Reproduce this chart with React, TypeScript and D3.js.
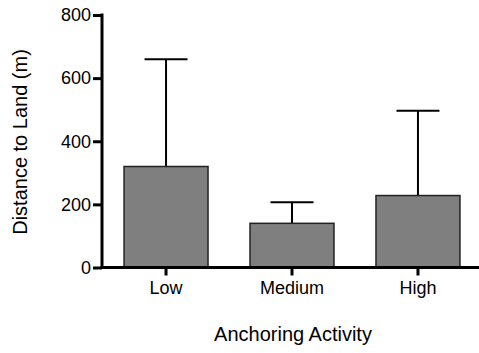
import React, { useEffect, useRef } from "react";
import * as d3 from "d3";

const categories = ["Low", "Medium", "High"];
const means = [320, 140, 228];
const errTops = [660, 207, 497];
const yTicks = [0, 200, 400, 600, 800];

const width = 479;
const height = 353;
const left = 102;
const bottom = 267.5;
const top = 15;
const font = "'Liberation Sans', Arial, Helvetica, sans-serif";

const xScale = d3
  .scaleBand()
  .domain(categories)
  .range([left, 482])
  .paddingInner(1 / 3)
  .paddingOuter(0.175);

const yScale = d3.scaleLinear().domain([0, 800]).range([bottom, top]);

export default function App() {
  const xAxisRef = useRef<SVGGElement>(null);
  const yAxisRef = useRef<SVGGElement>(null);

  useEffect(() => {
    const yAxis = d3.axisLeft(yScale).tickValues(yTicks).tickSize(9).tickSizeOuter(0).tickPadding(2);
    const yg = d3.select(yAxisRef.current!).call(yAxis);
    yg.select(".domain").remove();
    yg.selectAll(".tick line").attr("stroke", "#000").attr("stroke-width", 3);
    yg.selectAll(".tick text").attr("font-size", 18).attr("font-family", font).attr("fill", "#000");

    const xAxis = d3.axisBottom(xScale).tickSize(8).tickSizeOuter(0).tickPadding(6);
    const xg = d3.select(xAxisRef.current!).call(xAxis);
    xg.select(".domain").remove();
    xg.selectAll(".tick line").attr("stroke", "#000").attr("stroke-width", 3);
    xg.selectAll(".tick text").attr("font-size", 18).attr("font-family", font).attr("fill", "#000");
  }, []);

  const bw = xScale.bandwidth();
  const capW = 43;

  return (
    <svg
      width={width}
      height={height}
      style={{ position: "absolute", left: 0, top: 0, background: "#fff" }}
    >
      {categories.map((c, i) => {
        const x = xScale(c)!;
        const cx = x + bw / 2;
        return (
          <g key={c}>
            <line x1={cx} x2={cx} y1={yScale(means[i])} y2={yScale(errTops[i])} stroke="#000" strokeWidth={2} />
            <line x1={cx - capW / 2} x2={cx + capW / 2} y1={yScale(errTops[i])} y2={yScale(errTops[i])} stroke="#000" strokeWidth={2} />
            <rect
              x={x}
              y={yScale(means[i])}
              width={bw}
              height={bottom - yScale(means[i])}
              fill="#7f7f7f"
              stroke="#222"
              strokeWidth={1.5}
            />
          </g>
        );
      })}
      <g ref={yAxisRef} transform={`translate(${left}, 0)`} />
      <g ref={xAxisRef} transform={`translate(0, ${bottom})`} />
      <line x1={left} x2={left} y1={top - 1.5} y2={bottom} stroke="#000" strokeWidth={3} />
      <line x1={left - 1.5} x2={width} y1={bottom} y2={bottom} stroke="#000" strokeWidth={3} />
      <text
        x={293}
        y={341}
        textAnchor="middle"
        fontSize={20}
        fontFamily={font}
        fill="#000"
      >
        Anchoring Activity
      </text>
      <text
        transform={`translate(27, 142) rotate(-90)`}
        textAnchor="middle"
        fontSize={20}
        fontFamily={font}
        fill="#000"
      >
        Distance to Land (m)
      </text>
    </svg>
  );
}
